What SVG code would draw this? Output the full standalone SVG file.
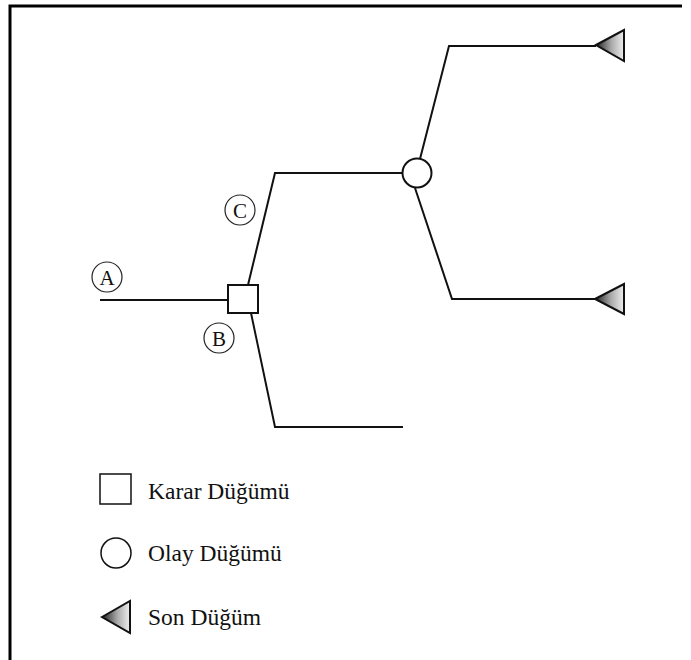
<svg xmlns="http://www.w3.org/2000/svg" width="691" height="660" viewBox="0 0 691 660">
  <style>
    .edge { fill: none; stroke: #111; stroke-width: 2; }
    .node { fill: #fff; stroke: #111; stroke-width: 2; }
    .tag { fill: none; stroke: #222; stroke-width: 1.2; }
    .lbl { font-family: "Liberation Serif", "Times New Roman", serif; fill: #111; }
    .end { fill: url(#endGrad); stroke: #111; stroke-width: 2; stroke-linejoin: miter; }
  </style>
  <defs>
    <linearGradient id="endGrad" x1="0" y1="0" x2="1" y2="0">
      <stop offset="0" stop-color="#222"/>
      <stop offset="0.55" stop-color="#aaa"/>
      <stop offset="1" stop-color="#eee"/>
    </linearGradient>
  </defs>

  <rect width="691" height="660" fill="#fff"/>

  <!-- frame -->
  <path d="M10,660 V6 H682" fill="none" stroke="#000" stroke-width="3"/>

  <!-- connectors -->
  <g id="connectors">
    <path class="edge" d="M100,300 H228"/>
    <path class="edge" d="M248,285 L275,173 H403"/>
    <path class="edge" d="M251,313 L275,427 H403"/>
    <path class="edge" d="M420,159 L449,46 H596"/>
    <path class="edge" d="M415,188 L452,299 H595"/>
  </g>

  <!-- decision node -->
  <g id="decision">
    <rect class="node" x="228" y="285" width="30" height="28"/>
  </g>

  <!-- chance node -->
  <g id="chance">
    <circle class="node" cx="417" cy="173" r="14.5"/>
  </g>

  <!-- end nodes -->
  <g id="end-top">
    <polygon class="end" points="596,45 624,30 624,61"/>
  </g>
  <g id="end-bottom">
    <polygon class="end" points="595,299 624,284 624,314"/>
  </g>

  <!-- branch labels -->
  <g id="label-a">
    <circle class="tag" cx="107" cy="277" r="15"/>
    <text class="lbl" x="107" y="284.5" font-size="21" text-anchor="middle">A</text>
  </g>
  <g id="label-b">
    <circle class="tag" cx="219" cy="338" r="15"/>
    <text class="lbl" x="219" y="345.5" font-size="21" text-anchor="middle">B</text>
  </g>
  <g id="label-c">
    <circle class="tag" cx="240" cy="210" r="15"/>
    <text class="lbl" x="240" y="217.5" font-size="21" text-anchor="middle">C</text>
  </g>

  <!-- legend -->
  <g id="legend-decision">
    <rect x="100" y="474" width="31" height="30" fill="#fff" stroke="#111" stroke-width="1.5"/>
    <text class="lbl" x="148" y="499" font-size="23.5">Karar Düğümü</text>
  </g>
  <g id="legend-chance">
    <circle cx="116" cy="553" r="15" fill="#fff" stroke="#111" stroke-width="1.5"/>
    <text class="lbl" x="148" y="561" font-size="23.5">Olay Düğümü</text>
  </g>
  <g id="legend-end">
    <polygon class="end" points="102,617 130,601 130,633"/>
    <text class="lbl" x="148" y="625" font-size="23.5">Son Düğüm</text>
  </g>
</svg>
